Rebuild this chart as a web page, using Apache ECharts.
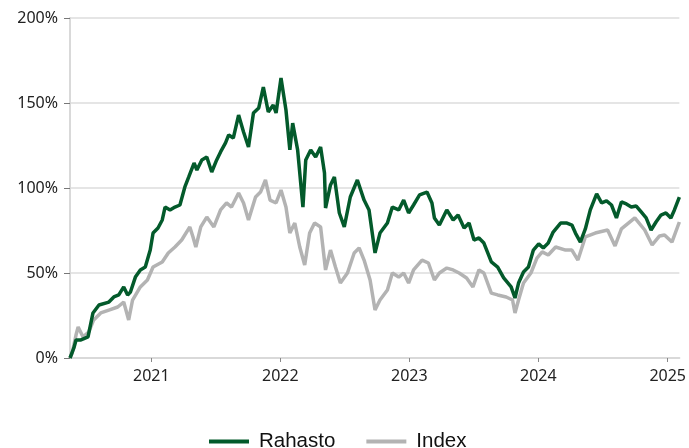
<!DOCTYPE html>
<html lang="fi">
<head>
    <meta charset="UTF-8">
    <title>Rahasto vs Index</title>
    <style>
        html, body { margin:0; padding:0; background:#fff; }
        #main { width:689px; height:448px; }
    </style>
    <script src="https://cdn.jsdelivr.net/npm/echarts@6/dist/echarts.min.js"></script>
</head>
<body>
<div id="main"></div>
<script type="text/javascript">
    // kumulatiivinen tuotto (%), luettu kuvasta
    var rahastoDates = ['2020-05-16','2020-05-27','2020-06-02','2020-06-16','2020-07-06','2020-07-20','2020-08-06','2020-09-03','2020-09-17','2020-10-01',
        '2020-10-15','2020-10-26','2020-11-03','2020-11-17','2020-12-01','2020-12-15','2020-12-29','2021-01-06','2021-01-20','2021-02-01',
        '2021-02-09','2021-02-23','2021-03-09','2021-03-23','2021-04-06','2021-04-17','2021-05-02','2021-05-10','2021-05-24','2021-06-07',
        '2021-06-21','2021-07-05','2021-07-16','2021-07-30','2021-08-08','2021-08-21','2021-09-05','2021-09-19','2021-10-03','2021-10-17',
        '2021-11-01','2021-11-14','2021-11-28','2021-12-12','2021-12-20','2022-01-03','2022-01-17','2022-01-28','2022-02-05','2022-02-19',
        '2022-03-06','2022-03-14','2022-03-28','2022-04-11','2022-04-25','2022-05-06','2022-05-09','2022-05-23','2022-06-03','2022-06-17',
        '2022-07-01','2022-07-18','2022-08-07','2022-08-26','2022-09-09','2022-09-26','2022-10-10','2022-10-31','2022-11-14','2022-12-02',
        '2022-12-16','2022-12-30','2023-01-13','2023-01-30','2023-02-20','2023-03-06','2023-03-13','2023-03-27','2023-04-17','2023-05-05',
        '2023-05-19','2023-06-05','2023-06-19','2023-07-03','2023-07-17','2023-07-31','2023-08-21','2023-09-08','2023-09-25','2023-10-16',
        '2023-10-27','2023-11-06','2023-11-20','2023-12-04','2023-12-18','2024-01-02','2024-01-15','2024-01-29','2024-02-12','2024-03-04',
        '2024-03-22','2024-04-05','2024-04-15','2024-04-29','2024-05-13','2024-05-27','2024-06-14','2024-06-28','2024-07-12','2024-07-26',
        '2024-08-09','2024-08-23','2024-09-06','2024-09-20','2024-10-04','2024-10-18','2024-11-01','2024-11-15','2024-11-29','2024-12-13',
        '2024-12-27','2025-01-10','2025-01-20','2025-02-03'];
    var rahastoValues = [0,5.9,10.6,10.6,12.4,26.5,31.2,32.9,35.9,37.1,
        41.8,37.1,38.8,47.6,51.8,53.5,63.5,73.5,76.5,81.2,
        88.8,87.1,88.8,90.0,100.6,106.5,114.7,110.6,116.5,118.2,
        109.4,116.5,121.2,126.5,131.2,129.4,142.9,132.9,124.1,144.1,
        147.1,159.4,144.7,148.8,144.1,164.7,145.9,122.4,138.2,122.4,
        88.8,116.5,122.4,118.2,124.1,108.8,88.2,101.8,106.5,85.3,
        77.1,94.7,104.7,92.9,87.1,61.8,73.5,79.4,88.8,87.1,
        92.9,85.3,90.0,95.9,97.6,91.2,82.4,78.2,87.1,81.2,
        84.1,76.5,79.4,69.4,70.6,67.6,56.5,53.5,47.1,41.8,
        35.3,44.1,50.6,53.5,63.5,67.1,64.7,67.6,74.1,79.4,
        79.4,78.2,73.5,68.2,75.9,87.1,96.5,91.2,92.4,90.0,
        82.4,91.8,90.6,88.8,89.4,85.9,82.4,75.3,80.0,84.1,
        85.3,82.4,87.1,94.7];

    var indexDates = ['2020-05-16','2020-05-22','2020-06-02','2020-06-08','2020-06-22','2020-07-08','2020-07-22','2020-08-11','2020-09-03','2020-09-28',
        '2020-10-15','2020-10-29','2020-11-09','2020-12-01','2020-12-21','2021-01-06','2021-02-01','2021-02-18','2021-03-09','2021-03-28',
        '2021-04-20','2021-04-29','2021-05-07','2021-05-21','2021-06-07','2021-06-27','2021-07-16','2021-08-02','2021-08-16','2021-09-05',
        '2021-09-19','2021-10-03','2021-10-23','2021-11-06','2021-11-20','2021-12-03','2021-12-20','2022-01-03','2022-01-17','2022-01-28',
        '2022-02-11','2022-02-25','2022-03-11','2022-03-25','2022-04-08','2022-04-25','2022-05-09','2022-05-23','2022-06-06','2022-06-20',
        '2022-07-10','2022-07-29','2022-08-12','2022-08-26','2022-09-12','2022-09-26','2022-10-10','2022-10-31','2022-11-14','2022-12-02',
        '2022-12-16','2022-12-30','2023-01-13','2023-02-06','2023-02-24','2023-03-13','2023-03-27','2023-04-17','2023-05-05','2023-05-22',
        '2023-06-12','2023-06-30','2023-07-17','2023-07-31','2023-08-21','2023-09-08','2023-10-02','2023-10-20','2023-10-27','2023-11-06',
        '2023-11-20','2023-12-11','2023-12-28','2024-01-12','2024-01-29','2024-02-19','2024-03-18','2024-04-05','2024-04-22','2024-05-13',
        '2024-06-10','2024-07-15','2024-08-05','2024-08-23','2024-09-30','2024-10-28','2024-11-18','2024-12-09','2024-12-23','2025-01-13',
        '2025-02-03'];
    var indexValues = [0,2.9,13.5,18.2,12.4,15.3,22.4,26.5,28.2,30.0,
        32.9,22.4,34.1,41.8,45.9,53.5,56.5,61.8,65.3,69.4,
        77.1,71.2,65.3,77.1,82.9,77.1,87.1,91.2,88.8,97.1,
        91.2,81.2,94.7,97.6,104.7,92.9,91.2,98.8,88.8,73.5,
        79.4,65.3,54.7,73.5,79.4,77.1,51.8,63.5,53.5,44.1,
        50.0,61.8,64.7,57.6,45.9,28.2,34.1,40.0,50.0,47.6,
        50.0,44.1,51.8,57.6,55.9,45.9,50.0,52.9,51.8,50.0,
        47.1,41.8,51.8,50.0,38.2,37.1,35.9,34.1,26.5,34.1,
        44.1,50.0,58.8,62.4,60.6,65.3,63.5,63.5,57.6,71.2,
        73.5,75.3,65.9,75.9,82.4,75.3,66.5,71.8,72.4,68.2,
        80.0];

    var yTicks = [0, 50, 100, 150, 200];

    function pairs(dates, values) {
        return dates.map(function (d, i) { return [d, values[i]]; });
    }

    var myChart = echarts.init(document.getElementById('main'));
    var YEAR = 365 * 24 * 3600 * 1000;

    var option = {
        animation: false,
        grid: { left: 70, right: 3, top: 18, bottom: 90, containLabel: false },
        legend: {
            data: ['Rahasto', 'Index'],
            top: 426,
            left: 204,
            icon: 'rect',
            itemWidth: 40,
            itemHeight: 4,
            itemGap: 31,
            textStyle: { fontFamily: 'Liberation Sans', fontSize: 20.5, color: '#111', padding: [0, 0, 0, 5] }
        },
        xAxis: {
            type: 'time',
            min: '2020-05-16',
            max: '2025-02-03',
            minInterval: YEAR,
            axisLine: { lineStyle: { color: '#d9d9d9', width: 2 } },
            axisTick: { show: true, length: 4, lineStyle: { color: '#888' } },
            axisLabel: {
                fontFamily: 'Noto Sans', fontSize: 16, color: '#222', margin: 10,
                showMinLabel: false, showMaxLabel: false,
                formatter: function (val) {
                    var d = new Date(val);
                    return (d.getMonth() === 0 && d.getDate() === 1) ? String(d.getFullYear()) : '';
                }
            },
            splitLine: { show: false }
        },
        yAxis: {
            type: 'value',
            min: yTicks[0],
            max: yTicks[yTicks.length - 1],
            interval: 50,
            axisLine: { show: true, lineStyle: { color: '#d9d9d9', width: 2 } },
            axisTick: { show: true, length: 6, lineStyle: { color: '#777' } },
            axisLabel: { fontFamily: 'Noto Sans', fontSize: 16, color: '#222', margin: 12, formatter: '{value}%' },
            splitLine: { lineStyle: { color: '#dcdcdc', width: 1.5 } }
        },
        series: [{
            name: 'Rahasto',
            type: 'line',
            data: pairs(rahastoDates, rahastoValues),
            showSymbol: false,
            z: 3,
            lineStyle: { color: '#035a2b', width: 3.5 },
            itemStyle: { color: '#035a2b' }
        }, {
            name: 'Index',
            type: 'line',
            data: pairs(indexDates, indexValues),
            showSymbol: false,
            z: 2,
            lineStyle: { color: '#b3b3b3', width: 3.5 },
            itemStyle: { color: '#b3b3b3' }
        }]
    };
    myChart.setOption(option);
</script>
</body>
</html>
